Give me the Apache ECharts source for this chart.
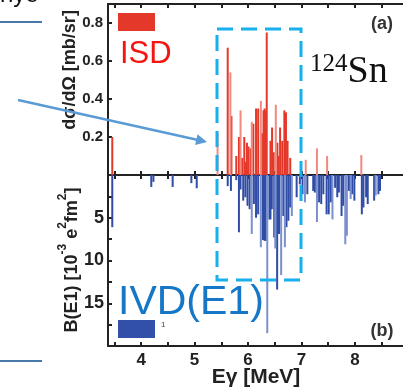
<!DOCTYPE html>
<html>
<head>
<meta charset="utf-8">
<script src="https://cdn.jsdelivr.net/npm/echarts@6/dist/echarts.min.js"></script>
<style>
  html, body { margin: 0; padding: 0; background: #fff; }
  #chart { width: 403px; height: 387px; }
</style>
</head>
<body>
<div id="chart"></div>
<script>
// [E_gamma (MeV), d(sigma)/d(Omega) (mb/sr)]  upper panel, ISD
const isdDark = [
  [3.46, 0.20], [5.62, 0.67], [5.69, 0.31], [5.78, 0.10], [5.83, 0.20], [5.89, 0.09],
  [5.93, 0.20], [5.96, 0.07], [5.98, 0.17], [6.01, 0.15], [6.05, 0.14], [6.10, 0.27],
  [6.15, 0.35], [6.19, 0.35], [6.26, 0.22], [6.29, 0.34], [6.31, 0.35], [6.33, 0.34],
  [6.35, 0.75], [6.42, 0.18], [6.45, 0.25], [6.48, 0.12], [6.55, 0.17], [6.57, 0.10],
  [6.60, 0.25], [6.64, 0.18], [6.68, 0.34], [6.71, 0.33], [6.74, 0.18], [6.79, 0.09]
]
const isdLight = [
  [5.43, 0.22], [5.67, 0.54], [5.86, 0.34], [6.07, 0.28], [6.24, 0.39], [6.52, 0.37],
  [7.08, 0.08], [7.29, 0.14], [7.48, 0.10], [8.12, 0.105]
]

// [E_gamma (MeV), B(E1) (10^-3 e^2 fm^2)]  lower panel, IVD
const ivdDark = [
  [3.46, 6.1], [4.19, 1.4], [4.23, 0.8], [4.59, 1.4], [4.94, 0.95], [5.04, 1.55],
  [5.62, 1.3], [5.68, 1.86], [5.78, 0.6], [5.83, 6.7], [5.86, 1.7], [5.91, 3.0],
  [5.95, 2.6], [5.99, 3.6], [6.03, 4.0], [6.11, 3.4], [6.15, 5.0], [6.19, 4.6],
  [6.28, 7.6], [6.31, 7.7], [6.33, 7.7], [6.40, 5.2], [6.42, 5.2], [6.445, 4.0],
  [6.49, 7.3], [6.545, 13.4], [6.58, 6.9], [6.66, 4.8], [6.72, 6.1], [6.755, 5.35],
  [6.79, 3.8], [6.91, 2.6], [6.97, 1.1], [7.02, 2.25], [7.11, 2.25], [7.22, 1.86],
  [7.25, 2.05], [7.33, 3.2], [7.37, 3.4], [7.41, 2.25], [7.47, 4.6], [7.51, 4.6],
  [7.55, 3.2], [7.63, 1.5], [7.67, 2.6], [7.70, 2.05], [7.75, 4.8], [7.78, 3.6],
  [7.89, 1.86], [7.95, 2.25], [7.99, 3.0], [8.13, 4.6], [8.16, 3.8], [8.21, 2.6],
  [8.24, 3.4], [8.36, 3.0], [8.44, 2.25], [8.47, 1.86]
]
const ivdLight = [
  [6.07, 6.9], [6.24, 8.45], [6.36, 18.5], [6.51, 8.6], [6.62, 11.7], [6.69, 8.45],
  [6.82, 4.8], [7.065, 3.2], [7.29, 5.5], [7.58, 5.2], [7.82, 8.1], [7.85, 7.1],
  [7.92, 2.8], [8.39, 2.4]
]

const xTicks = [3.5, 4, 4.5, 5, 5.5, 6, 6.5, 7, 7.5, 8, 8.5]
const xLabels = [4, 5, 6, 7, 8]
const topLabels = [0.2, 0.4, 0.6, 0.8]
const bottomLabels = [5, 10, 15]
const bottomTicks = [2.5, 5, 7.5, 10, 12.5, 15, 17.5]

const RED = '#e4392a', RED_LT = '#f0897e'
const BLUE = '#2f4ca6', BLUE_LT = '#7b90cc'
const INK = '#222'
const SANS = '"Liberation Sans", Arial, sans-serif'
const SERIF = '"Liberation Serif", "DejaVu Serif", serif'

const chart = echarts.init(document.getElementById('chart'))

function xAx(grid, pos, labels) {
  return {
    type: 'value', gridIndex: grid, position: pos, min: 3.38, max: 8.9,
    axisLine: { show: true, onZero: false, lineStyle: { color: INK, width: 2 } },
    axisTick: { show: true, inside: true, length: 4, customValues: xTicks, lineStyle: { color: INK, width: 2 } },
    axisLabel: labels
      ? { show: true, customValues: xLabels, color: INK, fontSize: 17, fontWeight: 'bold', fontFamily: SANS, margin: 6 }
      : { show: false },
    splitLine: { show: false }
  }
}

function bars(dark, light, c1, c2) {
  return dark.map(d => ({ value: d, itemStyle: { color: c1 } }))
    .concat(light.map(d => ({ value: d, itemStyle: { color: c2 } })))
}

chart.setOption({
  animation: false,
  backgroundColor: '#fff',
  grid: [
    { left: 108, top: 4, right: -3, height: 171 },
    { left: 108, top: 175, right: -3, height: 171 }
  ],
  xAxis: [xAx(0, 'bottom'), xAx(0, 'top'), xAx(1, 'top'), xAx(1, 'bottom', true)],
  yAxis: [
    {
      type: 'value', gridIndex: 0, min: 0, max: 0.9,
      axisLine: { show: true, lineStyle: { color: INK, width: 2 } },
      axisTick: { show: true, inside: true, length: 4, customValues: topLabels, lineStyle: { color: INK, width: 2 } },
      axisLabel: { customValues: topLabels, color: INK, fontSize: 15, fontWeight: 'bold', fontFamily: SANS, margin: 5,
        formatter: v => v.toFixed(1) },
      splitLine: { show: false }
    },
    {
      type: 'value', gridIndex: 1, min: 0, max: 20, inverse: true,
      axisLine: { show: true, lineStyle: { color: INK, width: 2 } },
      axisTick: { show: true, inside: true, length: 4, customValues: bottomTicks, lineStyle: { color: INK, width: 2 } },
      axisLabel: { customValues: bottomLabels, color: INK, fontSize: 18, fontWeight: 'bold', fontFamily: SANS, margin: 4 },
      splitLine: { show: false }
    }
  ],
  series: [
    { type: 'bar', xAxisIndex: 0, yAxisIndex: 0, barWidth: 2, data: bars(isdDark, isdLight, RED, RED_LT) },
    { type: 'bar', xAxisIndex: 3, yAxisIndex: 1, barWidth: 2, data: bars(ivdDark, ivdLight, BLUE, BLUE_LT) }
  ],
  graphic: [
    // axis titles
    { type: 'text', x: 70, y: 70, rotation: Math.PI / 2, z: 50,
      style: { text: 'dσ/dΩ [mb/sr]', fill: INK, font: 'bold 18px ' + SANS, align: 'center', verticalAlign: 'middle' } },
    { type: 'text', x: 69, y: 260, rotation: Math.PI / 2, z: 50,
      style: {
        text: '{a|B(E1) [10}{s|-3}{a| e}{s|2}{a|fm}{s|2}{a|]}', align: 'center', verticalAlign: 'middle',
        rich: {
          a: { fill: INK, fontSize: 18, fontWeight: 'bold', fontFamily: SANS, lineHeight: 24, verticalAlign: 'bottom' },
          s: { fill: INK, fontSize: 12, fontWeight: 'bold', fontFamily: SANS, lineHeight: 24, verticalAlign: 'top' }
        }
      } },
    { type: 'text', x: 256, y: 377, z: 50,
      style: { text: 'Eγ [MeV]', fill: INK, font: 'bold 21px ' + SANS, align: 'center', verticalAlign: 'middle' } },
    // panel tags
    { type: 'text', x: 382, y: 24, z: 50,
      style: { text: '(a)', fill: '#333', font: 'bold 18px ' + SANS, align: 'center', verticalAlign: 'middle' } },
    { type: 'text', x: 382, y: 331, z: 50,
      style: { text: '(b)', fill: '#333', font: 'bold 18px ' + SANS, align: 'center', verticalAlign: 'middle' } },
    // legends
    { type: 'rect', shape: { x: 118, y: 13, width: 37, height: 18 }, style: { fill: RED }, z: 50 },
    { type: 'text', x: 120, y: 54, z: 50,
      style: { text: 'ISD', fill: '#f5140f', font: '31px ' + SANS, align: 'left', verticalAlign: 'middle' } },
    { type: 'text', x: 118, y: 303, z: 50,
      style: { text: 'IVD(E1)', fill: '#1677c6', font: '41px ' + SANS, align: 'left', verticalAlign: 'middle' } },
    { type: 'rect', shape: { x: 118, y: 320, width: 37, height: 18 }, style: { fill: '#3350a8' }, z: 50 },
    { type: 'text', x: 161, y: 325, z: 50,
      style: { text: '1', fill: '#444', font: '8px ' + SANS, align: 'left', verticalAlign: 'middle' } },
    // nucleus label
    { type: 'text', x: 310, y: 72, z: 50,
      style: {
        text: '{n|124}{s|Sn}', align: 'left', verticalAlign: 'middle',
        rich: {
          n: { fill: '#111', fontSize: 25, fontFamily: SERIF, lineHeight: 40, verticalAlign: 'top' },
          s: { fill: '#111', fontSize: 38, fontFamily: SERIF, lineHeight: 40 }
        }
      } },
    // highlight box
    { type: 'rect', z: 60, shape: { x: 217, y: 29, width: 84, height: 251 },
      style: { fill: null, stroke: '#17b0ec', lineWidth: 3, lineDash: [16, 8] } },
    // arrow
    { type: 'line', z: 60, shape: { x1: 18, y1: 100, x2: 197, y2: 139.8 },
      style: { stroke: '#5b9bd5', lineWidth: 2.5 } },
    { type: 'polygon', z: 60, shape: { points: [[207, 142], [195.1, 145], [197.5, 134.2]] },
      style: { fill: '#5b9bd5' } },
    // slide fragments at the left edge
    { type: 'line', z: 40, shape: { x1: 0, y1: 22, x2: 42, y2: 22 }, style: { stroke: '#4a78aa', lineWidth: 2 } },
    { type: 'line', z: 40, shape: { x1: 0, y1: 361, x2: 42, y2: 361 }, style: { stroke: '#4a78aa', lineWidth: 2 } },
    { type: 'text', x: 0, y: -17, z: 40,
      style: { text: 'nye', fill: '#111', font: '24px ' + SANS, align: 'left', verticalAlign: 'top' } }
  ]
})
</script>
</body>
</html>
